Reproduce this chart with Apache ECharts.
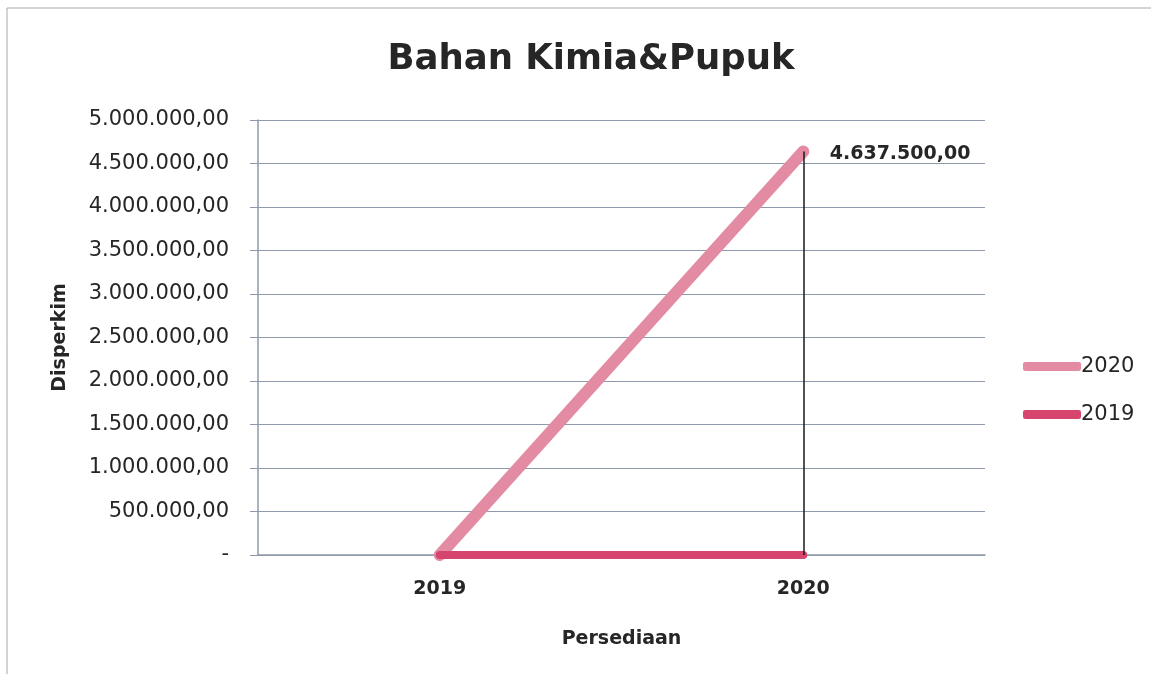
<!DOCTYPE html>
<html>
<head>
<meta charset="utf-8">
<style>
  html, body { margin: 0; padding: 0; background: #ffffff; }
  #chart { width: 1151px; height: 674px; }
</style>
<script src="https://cdn.jsdelivr.net/npm/echarts@6/dist/echarts.min.js"></script>
</head>
<body>
<div id="chart"></div>
<script>
// Categories on the x axis
const categories = ['2019', '2020'];
// Series values
const series2020 = [0, 4637500];
const series2019 = [0, 0];
// Y axis range
const yMin = 0;
const yMax = 5000000;
const yStep = 500000;

function formatRupiah(v) {
  if (v === 0) return '-';
  const parts = Math.round(v).toString().replace(/\B(?=(\d{3})+(?!\d))/g, '.');
  return parts + ',00';
}

const FONT = '"DejaVu Sans", "Open Sans", sans-serif';
const INK = '#262626';
const chart = echarts.init(document.getElementById('chart'));

chart.setOption({
  animation: false,
  backgroundColor: '#ffffff',
  textStyle: { fontFamily: FONT },
  graphic: [{
    type: 'rect',
    shape: { x: 7, y: 8, width: 1150, height: 680 },
    style: { fill: 'none', stroke: '#a8a8a8', lineWidth: 1 },
    silent: true
  }],
  title: {
    text: 'Bahan Kimia&Pupuk',
    left: 586,
    textAlign: 'center',
    top: 37,
    textStyle: { fontFamily: FONT, fontSize: 35.5, fontWeight: 'bold', color: INK }
  },
  legend: {
    orient: 'vertical',
    left: 1018,
    top: 351,
    itemGap: 27,
    itemWidth: 58,
    itemHeight: 9,
    icon: 'roundRect',
    data: ['2020', '2019'],
    textStyle: { fontFamily: FONT, fontSize: 21, color: INK, padding: [0, 0, 0, -5] }
  },
  grid: { left: 258, right: 166, top: 120, bottom: 119 },
  xAxis: {
    type: 'category',
    data: categories,
    boundaryGap: true,
    name: 'Persediaan',
    nameLocation: 'middle',
    nameGap: 75,
    nameTextStyle: { fontFamily: FONT, fontSize: 19, fontWeight: 'bold', color: INK },
    axisLine: { lineStyle: { color: '#8e9aab', width: 1.5 } },
    axisTick: { show: false },
    axisLabel: { fontFamily: FONT, fontSize: 19, fontWeight: 'bold', color: INK, margin: 25 }
  },
  yAxis: {
    type: 'value',
    min: yMin,
    max: yMax,
    interval: yStep,
    name: 'Disperkim',
    nameLocation: 'middle',
    nameRotate: 90,
    nameGap: 188,
    nameTextStyle: { fontFamily: FONT, fontSize: 19, fontWeight: 'bold', color: INK },
    axisLine: { show: true, lineStyle: { color: '#8e9aab', width: 1.5 } },
    axisTick: { show: true, inside: false, length: 8, lineStyle: { color: '#8e9aab' } },
    splitLine: { lineStyle: { color: '#8e9aab', width: 1.2 } },
    axisLabel: { fontFamily: FONT, fontSize: 21, color: INK, margin: 29, formatter: formatRupiah }
  },
  series: [
    {
      name: '2020',
      type: 'line',
      data: series2020,
      showSymbol: true,
      symbol: 'circle',
      symbolSize: 1,
      z: 3,
      color: '#e38ba3',
      lineStyle: { color: '#e38ba3', width: 12, cap: 'round' },
      label: {
        show: true,
        position: 'right',
        distance: 26,
        offset: [0, 3],
        fontFamily: FONT,
        fontSize: 19,
        fontWeight: 'bold',
        color: INK,
        formatter: p => (p.value > 0 ? formatRupiah(p.value) : '')
      },
      markLine: {
        silent: true,
        symbol: ['none', 'none'],
        label: { show: false },
        lineStyle: { color: '#1a1a1a', width: 1.5, type: 'solid' },
        data: [[{ coord: ['2020', series2020[1]] }, { coord: ['2020', 0] }]]
      }
    },
    {
      name: '2019',
      type: 'line',
      data: series2019,
      showSymbol: false,
      z: 4,
      color: '#d6456e',
      lineStyle: { color: '#d6456e', width: 8, cap: 'round' }
    }
  ]
});
</script>
</body>
</html>
